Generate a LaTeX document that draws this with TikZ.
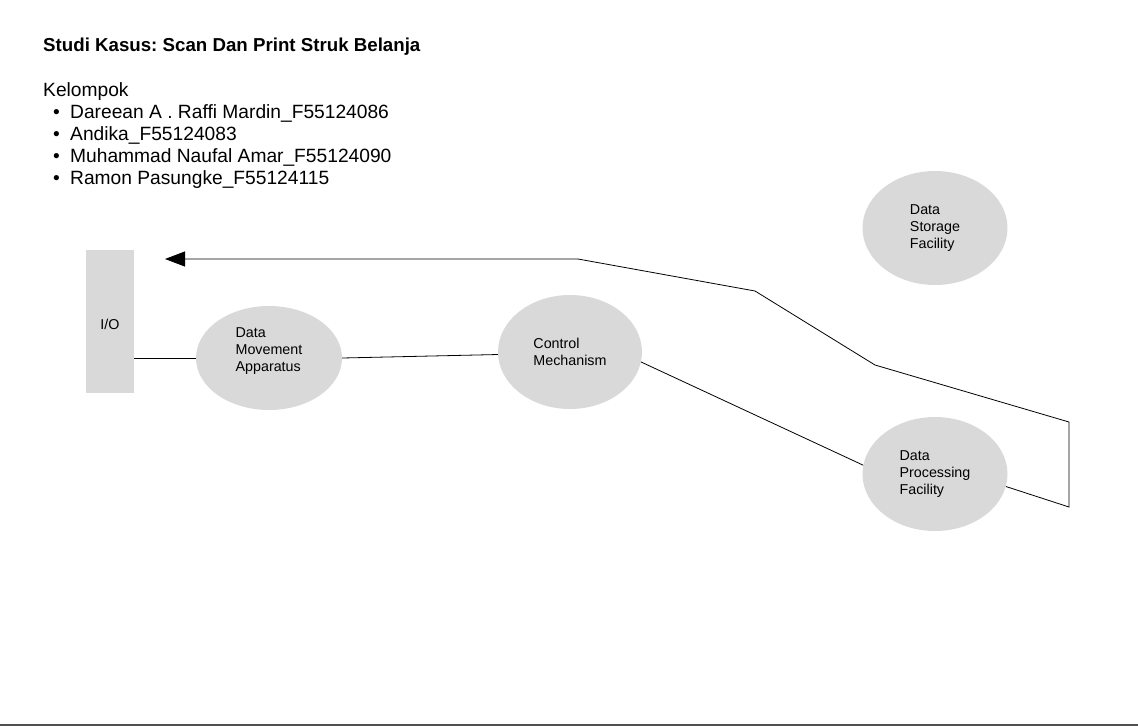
\documentclass[tikz,border=0pt]{standalone}
\usepackage{fontspec}
\setmainfont{Liberation Sans}
\usepackage{tikz}
\usetikzlibrary{shapes.geometric,arrows.meta}

\definecolor{boxgray}{HTML}{D9D9D9}
\definecolor{rulegray}{HTML}{505050}

\tikzset{
    proc/.style={ellipse, fill=boxgray, inner sep=0pt, align=left,
        font=\fontsize{14.3}{17}\selectfont},
    txt/.style={anchor=base west, inner sep=0pt,
        font=\fontsize{19.2}{22}\selectfont},
    flow/.style={draw, line width=0.8pt}
}

\begin{document}
\frenchspacing
\begin{tikzpicture}[x=1pt,y=-1pt]

    \useasboundingbox (0,0) rectangle (1138,726);

    % header
    \node[txt, font=\bfseries\fontsize{18.7}{22}\selectfont] (title) at (43,51) {Studi Kasus: Scan Dan Print Struk Belanja};
    \node[txt] (kel) at (43,96) {Kelompok};
    \node[txt] (b1) at (53,118) {\textbullet};
    \node[txt] (m1) at (70,118) {Dareean A . Raffi Mardin\_F55124086};
    \node[txt] (b2) at (53,140) {\textbullet};
    \node[txt] (m2) at (70,140) {Andika\_F55124083};
    \node[txt] (b3) at (53,162) {\textbullet};
    \node[txt] (m3) at (70,162) {Muhammad Naufal Amar\_F55124090};
    \node[txt] (b4) at (53,184) {\textbullet};
    \node[txt] (m4) at (70,184) {Ramon Pasungke\_F55124115};

    % I/O
    \node[fill=boxgray, minimum width=48pt, minimum height=143pt, inner sep=0pt] (io) at (110,321.5) {};
    \node[font=\fontsize{14.3}{17}\selectfont, inner sep=0pt] (iolab) at (110,324) {I/O};

    % processes
    \node[proc, minimum width=146pt, minimum height=104pt] (dma) at (269,358) {Data\\Movement\\Apparatus\\[-1pt]\mbox{}};
    \node[proc, minimum width=144pt, minimum height=114pt] (cm) at (570,352) {Control\\Mechanism};
    \node[proc, minimum width=145pt, minimum height=114pt] (dsf) at (935,228) {Data\\Storage\\Facility};
    \node[proc, minimum width=145pt, minimum height=114pt] (dpf) at (935,474) {Data\\Processing\\Facility};

    \coordinate (r1) at (1069,507);
    \coordinate (r2) at (1069,422);
    \coordinate (r3) at (875,365);
    \coordinate (r4) at (755,291);
    \coordinate (r5) at (578,259);
    \coordinate (tip) at (165,259);

    % connections
    \draw[flow] (io.east |- 0,358) -- (dma.west);
    \draw[flow] (dma.east) -- (cm.182);
    \draw[flow] (cm.-8) -- (dpf.173);
    \draw[flow, -{Triangle[length=20pt,width=15pt]}] (dpf.-10) -- (r1) -- (r2) -- (r3) -- (r4) -- (r5) -- (tip);

    % bottom rule
    \draw[rulegray, line width=2pt] (0,725) -- (1138,725);

\end{tikzpicture}
\end{document}
